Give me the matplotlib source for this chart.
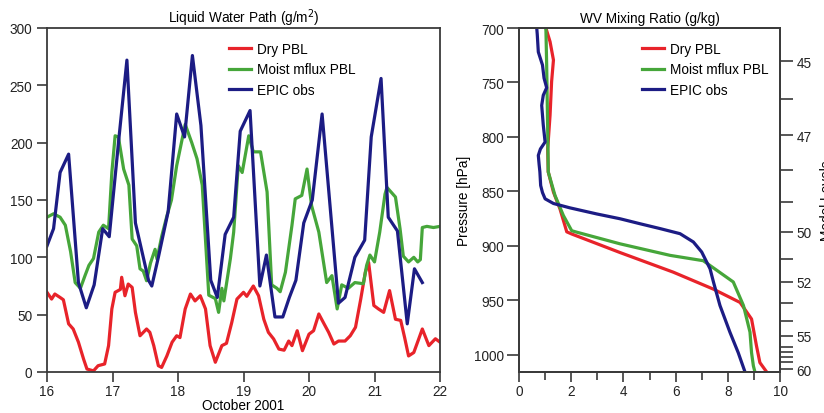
import matplotlib
matplotlib.use("Agg")
import matplotlib.pyplot as plt
from matplotlib.ticker import FixedLocator, NullFormatter

plt.rcParams['font.family'] = ['Liberation Sans', 'DejaVu Sans']

# ---------------- Left panel: Liquid Water Path ----------------
dry_day = [16.0, 16.07, 16.12, 16.2, 16.25, 16.33, 16.4, 16.48, 16.56, 16.61, 16.71, 16.78, 16.88,
           16.94, 16.99, 17.04, 17.12, 17.14, 17.19, 17.24, 17.3, 17.35, 17.42, 17.52, 17.57, 17.63,
           17.7, 17.75, 17.83, 17.91, 17.98, 18.03, 18.11, 18.19, 18.26, 18.34, 18.42, 18.49, 18.57,
           18.67, 18.74, 18.82, 18.9, 19.0, 19.05, 19.15, 19.23, 19.31, 19.38, 19.46, 19.54, 19.62,
           19.69, 19.74, 19.82, 19.9, 20.0, 20.07, 20.15, 20.23, 20.3, 20.38, 20.45, 20.55, 20.63,
           20.71, 20.79, 20.86, 20.91, 20.99, 21.06, 21.14, 21.23, 21.32, 21.4, 21.46, 21.52, 21.6,
           21.67, 21.73, 21.83, 21.93, 22.0]
dry_lwp = [69.5, 63.6, 68, 65, 63, 42, 37.5, 26, 11, 2.6, 1, 5.5, 7,
           23, 55, 69.5, 72, 82.6, 66.5, 76.7, 73.8, 52, 31.6, 37.5, 34.6, 23,
           5.5, 4, 14, 26, 31.6, 30, 55, 68, 62, 66.5, 55, 23, 8.5,
           23, 25, 43, 63.6, 69.5, 66, 75, 66.5, 46, 34.6, 28.8, 20, 19,
           27, 23, 36, 18.6, 33, 36, 50.6, 42, 34.6, 24.4, 27, 27, 31.6,
           39, 63.6, 87, 95.6, 58, 55, 52, 71, 46, 45, 30, 14, 17,
           28, 37.5, 23, 29, 26]

moist_day = [16.0, 16.1, 16.2, 16.28, 16.36, 16.43, 16.51, 16.58, 16.64, 16.71, 16.79, 16.86, 16.94,
             16.99, 17.04, 17.09, 17.17, 17.25, 17.3, 17.37, 17.42, 17.47, 17.52, 17.58, 17.65, 17.68,
             17.75, 17.83, 17.9, 17.98, 18.11, 18.21, 18.29, 18.37, 18.47, 18.57, 18.62, 18.67, 18.7,
             18.8, 18.85, 18.92, 18.98, 19.08, 19.15, 19.26, 19.36, 19.43, 19.51, 19.56, 19.64, 19.74,
             19.79, 19.89, 19.97, 20.04, 20.15, 20.27, 20.35, 20.43, 20.5, 20.6, 20.7, 20.83, 20.88,
             20.93, 21.0, 21.08, 21.16, 21.19, 21.32, 21.39, 21.44, 21.52, 21.6, 21.66, 21.7, 21.73,
             21.8, 21.9, 22.0]
moist_lwp = [135, 138, 135, 128, 105, 78, 73, 84, 93, 99, 122, 128, 125,
             174, 206, 205, 177, 163, 116, 110, 90, 88, 79.6, 95, 107, 98.5,
             118, 136, 150, 180, 216, 200, 186, 163, 67, 64, 52, 73, 62,
             99, 122, 180, 174, 206, 192, 192, 157, 76, 73, 70, 87, 128,
             151, 154, 177, 145, 122, 78, 84, 55, 76, 73, 78, 77, 93,
             102, 96, 122, 155, 161, 152.6, 125, 101, 96, 100, 96, 98, 126,
             127, 126, 127]

epic_day = [16.0, 16.1, 16.2, 16.33, 16.48, 16.6, 16.72, 16.85, 16.95, 17.1, 17.22, 17.35, 17.55,
            17.6, 17.7, 17.85, 17.98, 18.1, 18.22, 18.35, 18.5, 18.6, 18.72, 18.85, 18.95, 19.1,
            19.25, 19.35, 19.48, 19.6, 19.7, 19.8, 19.92, 20.05, 20.2, 20.45, 20.55, 20.7, 20.85,
            20.95, 21.1, 21.21, 21.35, 21.5, 21.61, 21.73]
epic_lwp = [110, 125, 174, 190, 78, 56, 76, 125, 118, 205, 272, 130, 80,
            75, 100, 140, 225, 205, 276, 215, 80, 65, 120, 135, 210, 228,
            75, 102, 48, 48, 65, 80, 130, 150, 225, 60, 65, 100, 115,
            205, 256, 135, 123, 42, 90, 78]

lwp_xticks = [16, 17, 18, 19, 20, 21, 22]
lwp_yticks = [0, 50, 100, 150, 200, 250, 300]

# ---------------- Right panel: WV mixing ratio ----------------
dry_q = [1.03, 1.19, 1.32, 1.25, 1.19, 1.1, 1.12, 1.32, 1.57, 1.83, 2.02, 3.87, 5.91, 7.45, 8.47,
         8.91, 9.1, 9.23, 9.49]
dry_p = [700, 712.6, 729.4, 749, 780, 810.7, 832, 850.6, 866, 887, 889, 906, 924, 939.6, 951.8,
         967, 991.7, 1007, 1015.6]

moist_q = [1.03, 1.06, 1.1, 1.12, 1.38, 1.7, 2.02, 2.21, 3.87, 5.79, 7.06, 8.21, 8.6, 8.85, 8.91,
           8.98, 9.04]
moist_p = [700, 734, 795, 832, 853.7, 872, 886, 887.3, 898, 908.6, 913.5, 933, 954.6, 979, 997.9,
           1010, 1015.6]

epic_q = [0.68, 0.7, 0.72, 0.74, 0.82, 0.9, 0.96, 1.06, 0.93, 0.87, 0.9, 0.93, 1.0, 0.82, 0.74,
          0.77, 0.8, 0.83, 0.9, 1.0, 1.32, 1.95, 2.98, 3.87, 4.64, 5.4, 6.17, 6.68, 7.0, 7.32, 7.45,
          7.7, 8.08, 8.4, 8.66]
epic_p = [700, 706, 714, 722, 728, 734, 746, 754.8, 761.7, 771, 780, 789, 804.6, 811, 816.9,
          825, 832, 844.5, 851, 856.7, 861, 865, 870.6, 875, 879.6, 884, 888.7, 896.3, 905.5, 920.9,
          933, 954.6, 979, 997.9, 1015.6]

wv_xticks = [0, 2, 4, 6, 8, 10]
wv_xminor = [1, 3, 5, 7, 9]
wv_yticks = [700, 750, 800, 850, 900, 950, 1000]

level_major_p = [730.4, 798.4, 887.0, 933.0, 982.4, 1013.0]
level_major_lab = ['45', '47', '50', '52', '55', '60']
level_minor_p = [764.7, 830.6, 859.7, 911.8, 952.3, 968.6, 992.8, 997.4, 1002.0, 1006.6]

# ---------------- styling ----------------
RED = '#e8232a'
GREEN = '#46a63a'
NAVY = '#1c1c84'
SPINE = '#3a3a3a'
LW = 2.3
FS = 9.8

fig = plt.figure(figsize=(8.24, 4.14), dpi=100)
ax1 = fig.add_axes([47/824, 1-373/414, (440-47)/824, (373-29)/414])
ax2 = fig.add_axes([519/824, 1-373/414, (780-519)/824, (373-29)/414])

def style(ax):
    for s in ax.spines.values():
        s.set_color(SPINE)
        s.set_linewidth(1.3)
    ax.tick_params(which='both', direction='out', color=SPINE, width=1.2, labelsize=FS,
                   labelcolor='#222222')
    ax.tick_params(which='major', length=7)
    ax.tick_params(which='minor', length=6)

leg_kw = dict(loc='upper left', frameon=False, fontsize=FS, handlelength=1.6,
              handletextpad=0.45, labelspacing=0.47, borderaxespad=0)

# Left
ax1.plot(dry_day, dry_lwp, color=RED, lw=LW, label='Dry PBL')
ax1.plot(moist_day, moist_lwp, color=GREEN, lw=LW, label='Moist mflux PBL')
ax1.plot(epic_day, epic_lwp, color=NAVY, lw=LW, label='EPIC obs')
ax1.set_xlim(16, 22)
ax1.set_ylim(0, 300)
ax1.set_xticks(lwp_xticks)
ax1.set_yticks(lwp_yticks)
style(ax1)
ax1.tick_params(axis='x', pad=2)
ax1.set_title('Liquid Water Path (g/m$^2$)', fontsize=FS, pad=4)
ax1.set_xlabel('October 2001', fontsize=FS, labelpad=0)
ax1.legend(bbox_to_anchor=(0.449, 0.975), **leg_kw)

# Right
ax2.plot(dry_q, dry_p, color=RED, lw=LW, label='Dry PBL')
ax2.plot(moist_q, moist_p, color=GREEN, lw=LW, label='Moist mflux PBL')
ax2.plot(epic_q, epic_p, color=NAVY, lw=LW, label='EPIC obs')
ax2.set_xlim(0, 10)
ax2.set_ylim(1015.6, 700)
ax2.set_xticks(wv_xticks)
ax2.xaxis.set_minor_locator(FixedLocator(wv_xminor))
ax2.set_yticks(wv_yticks)
style(ax2)
ax2.tick_params(axis='x', pad=2)
ax2.tick_params(axis='y', length=9, pad=2)
ax2.set_title('WV Mixing Ratio (g/kg)', fontsize=FS, pad=4)
ax2.set_ylabel('Pressure [hPa]', fontsize=FS, labelpad=2)
ax2.legend(bbox_to_anchor=(0.45, 0.975), **leg_kw)

ax3 = ax2.twinx()
ax3.set_ylim(1015.6, 700)
ax3.set_yticks(level_major_p)
ax3.set_yticklabels(level_major_lab)
ax3.yaxis.set_minor_locator(FixedLocator(level_minor_p))
ax3.yaxis.set_minor_formatter(NullFormatter())
style(ax3)
ax3.tick_params(which='both', length=9, pad=3)
fig.text(827/824, 1-201/414, 'Model Levels', rotation=90, ha='center', va='center', fontsize=FS)

fig.savefig('out.png', dpi=100)
